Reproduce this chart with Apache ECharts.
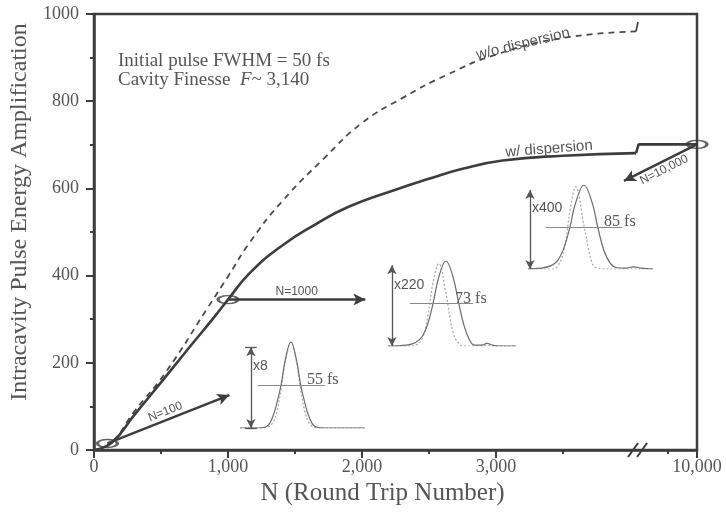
<!DOCTYPE html>
<html><head><meta charset="utf-8">
<script src="https://cdn.jsdelivr.net/npm/echarts@6/dist/echarts.min.js"></script>
<style>html,body{margin:0;padding:0;background:#fff}#c{width:726px;height:513px}</style>
</head><body><div id="c"></div>
<script>
// ---------- data ----------
// w/ dispersion (solid)
const solidN = [0, 130, 300, 500, 700, 900, 1000, 1160, 1400, 1650, 1900, 2250, 2500, 2750, 3050, 3500, 4045];
const solidY = [0, 16, 80, 155, 231, 306, 345, 405, 468, 517, 558, 597, 622, 645, 664, 675, 681];
const solidTailN = [4045, 9010, 10000];
const solidTailY = [681, 701, 701];
// w/o dispersion (dashed)
const dashedN = [0, 130, 300, 530, 850, 1000, 1160, 1400, 1730, 2000, 2300, 2630, 3000, 3500, 4045];
const dashedY = [0, 17, 88, 176, 327, 398, 475, 569, 673, 750, 807, 860, 907, 945, 960];
const dashedTailN = [4045, 9000];
const dashedTailY = [960, 982];
// marked round trips and arrows to the insets
const markerN = [100, 1000, 10000];
const markerY = [15, 345, 701];
const markerLabels = ['N=100', 'N=1000', 'N=10,000'];
const arrowEndN = [1010, 2025, 3955];
const arrowEndY = [126, 345, 617];
// axis ticks
const xTickN = [0, 1000, 2000, 3000, 10000];
const xTickLabels = ['0', '1,000', '2,000', '3,000', '10,000'];
const xMinorN = [500, 1500, 2500, 3500, 9500];
const yMin = 0, yMax = 1000, yStep = 200;
// axis break: N up to BREAK_AT drawn linearly, then RESUME_AT..10000 compressed
const BREAK_AT = 4060, RESUME_AT = 9000, RIGHT_SCALE = 0.44;

// inset pulses (time in fs, normalised intensity)
const p1T   = [-140, -90, -66, -50, -38, -27, -15, 0, 15, 27, 38, 50, 66, 90, 204];
const p1Out = [0, 0, 0.02, 0.13, 0.3, 0.5, 0.8, 1, 0.8, 0.5, 0.3, 0.13, 0.02, 0, 0];
const p1In  = [0, 0, 0.01, 0.06, 0.2, 0.45, 0.78, 1, 0.78, 0.45, 0.2, 0.06, 0.01, 0, 0];
const p2T   = [-162, -110, -85, -65, -50, -36, -20, 0, 20, 36, 50, 65, 80, 100, 115, 130, 150, 196];
const p2Out = [0, 0.01, 0.04, 0.12, 0.27, 0.5, 0.81, 1, 0.81, 0.5, 0.25, 0.08, 0.01, 0.01, 0.03, 0.01, 0, 0];
const p2In  = [0, 0, 0.01, 0.1, 0.37, 0.75, 0.97, 0.62, 0.16, 0.03, 0, 0, 0, 0, 0.01, 0, 0, 0];
const p3T   = [-170, -130, -100, -80, -60, -42, -25, 0, 25, 42, 60, 80, 100, 125, 152, 175, 210];
const p3Out = [0, 0.01, 0.04, 0.1, 0.26, 0.51, 0.79, 1, 0.79, 0.5, 0.23, 0.07, 0.015, 0.01, 0.025, 0.01, 0];
const p3In  = [0, 0, 0, 0.03, 0.24, 0.7, 0.98, 0.52, 0.07, 0.01, 0, 0, 0, 0, 0, 0, 0];
const insetGain = ['x8', 'x220', 'x400'];
const insetFwhm = ['55 fs', '73 fs', '85 fs'];

// ---------- helpers ----------
function toAxis(n) {
  const v = n <= BREAK_AT ? n : BREAK_AT + (n - RESUME_AT) * RIGHT_SCALE;
  return Math.round(v * 1000) / 1000;
}
const XMAX = toAxis(10000);
const xTickPos = xTickN.map(toAxis);
const xMinorPos = xMinorN.map(toAxis);
const pairs = (xs, ys, f) => xs.map((x, i) => [f ? f(x) : x, ys[i]]);

const AX = '#3d3d3d', TXT = '#555';
const SERIF = 'Liberation Serif', SANS = 'Liberation Sans';

const insets = [
  {grid: {left: 240, top: 342, width: 125, height: 86}, tMin: -140, tMax: 204, T: p1T, out: p1Out, inp: p1In, arrowT: -110, top: 0.94, fw: [-91, 94], cap: 16},
  {grid: {left: 388, top: 261, width: 128, height: 85}, tMin: -162, tMax: 196, T: p2T, out: p2Out, inp: p2In, arrowT: -151, top: 0.95, fw: [-101, 76], cap: 17},
  {grid: {left: 528, top: 185, width: 125, height: 84}, tMin: -170, tMax: 210, T: p3T, out: p3Out, inp: p3In, arrowT: -164, top: 0.94, fw: [-116, 116], cap: 18}
];

const grids = [{left: 94, right: 29, top: 14, bottom: 63, show: true, borderColor: AX, borderWidth: 2.5}];
const xAxes = [
  {gridIndex: 0, type: 'value', min: 0, max: XMAX, position: 'bottom',
   axisLine: {show: true, onZero: false, lineStyle: {color: AX, width: 2.5}},
   axisTick: {show: true, inside: false, length: 8, customValues: xTickPos, lineStyle: {color: AX, width: 2}},
   axisLabel: {show: true, customValues: xTickPos, margin: 8, color: TXT, fontFamily: SERIF, fontSize: 18,
     formatter: v => { const i = xTickPos.findIndex(p => Math.abs(p - v) < 1e-6); return i >= 0 ? xTickLabels[i] : ''; }},
   splitLine: {show: false},
   name: 'N (Round Trip Number)', nameLocation: 'middle', nameGap: 27,
   nameTextStyle: {fontFamily: SERIF, fontSize: 25, color: TXT, padding: [0, 26, 0, 0]}},
  {gridIndex: 0, type: 'value', min: 0, max: XMAX, position: 'bottom',
   axisLine: {show: false}, axisLabel: {show: false}, splitLine: {show: false},
   axisTick: {show: true, inside: false, length: 4, customValues: xMinorPos, lineStyle: {color: AX, width: 2}}}
];
const yAxes = [
  {gridIndex: 0, type: 'value', min: yMin, max: yMax, interval: yStep,
   axisLine: {show: true, onZero: false, lineStyle: {color: AX, width: 2.5}},
   axisTick: {show: true, inside: false, length: 8, lineStyle: {color: AX, width: 2}},
   minorTick: {show: true, splitNumber: 2, length: 4, lineStyle: {color: AX, width: 2}},
   axisLabel: {margin: 15, color: TXT, fontFamily: SERIF, fontSize: 18, formatter: v => String(v)},
   splitLine: {show: false},
   name: 'Intracavity Pulse Energy Amplification', nameLocation: 'middle', nameGap: 60,
   nameTextStyle: {fontFamily: SERIF, fontSize: 24, color: TXT, padding: [0, 0, 0, 40]}}
];

const series = [
  {name: 'w/o dispersion', type: 'line', xAxisIndex: 0, yAxisIndex: 0, data: pairs(dashedN, dashedY, toAxis),
   showSymbol: false, smooth: 0.5, lineStyle: {color: '#4a4a4a', width: 1.8, type: [6, 5]}, z: 3},
  {name: 'w/o dispersion tail', type: 'line', xAxisIndex: 0, yAxisIndex: 0, data: pairs(dashedTailN, dashedTailY, toAxis),
   showSymbol: false, lineStyle: {color: '#4a4a4a', width: 1.8}, z: 3},
  {name: 'w/ dispersion', type: 'line', xAxisIndex: 0, yAxisIndex: 0, data: pairs(solidN, solidY, toAxis),
   showSymbol: false, smooth: 0.5, lineStyle: {color: AX, width: 2.6}, z: 4},
  {name: 'w/ dispersion tail', type: 'line', xAxisIndex: 0, yAxisIndex: 0, data: pairs(solidTailN, solidTailY, toAxis),
   showSymbol: false, lineStyle: {color: AX, width: 2.6}, z: 4},
  {name: 'markers', type: 'scatter', xAxisIndex: 0, yAxisIndex: 0, clip: false,
   data: pairs(markerN, markerY, toAxis), symbol: 'circle', symbolSize: [20, 8],
   itemStyle: {color: 'rgba(0,0,0,0)', borderColor: AX, borderWidth: 2.2}, z: 5,
   markLine: {silent: true, symbol: ['none', 'arrow'], symbolSize: [9, 12], animation: false,
     lineStyle: {type: 'solid', color: AX, width: 2.5},
     data: markerN.map((n, i) => [
       {coord: [toAxis(n), markerY[i]],
        label: {show: true, formatter: markerLabels[i], position: i === 2 ? 'insideMiddleBottom' : 'insideMiddleTop',
                distance: 2, color: TXT, fontFamily: SANS, fontSize: 12}},
       {coord: [toAxis(arrowEndN[i]), arrowEndY[i]]}
     ])}}
];

insets.forEach((ins, k) => {
  grids.push(Object.assign({show: false}, ins.grid));
  xAxes.push({gridIndex: k + 1, type: 'value', min: ins.tMin, max: ins.tMax, show: false});
  yAxes.push({gridIndex: k + 1, type: 'value', min: 0, max: 1, show: false});
  const xi = k + 2, yi = k + 1;
  series.push({type: 'line', xAxisIndex: xi, yAxisIndex: yi, data: pairs(ins.T, ins.inp), showSymbol: false, smooth: 0.4,
    lineStyle: {color: '#a6a6a6', width: 1.2, type: [2, 2]}, z: 2});
  series.push({type: 'line', xAxisIndex: xi, yAxisIndex: yi, data: pairs(ins.T, ins.out), showSymbol: false, smooth: 0.4,
    lineStyle: {color: '#6c6c6c', width: 1.2}, z: 3,
    markLine: {silent: true, animation: false, label: {show: false},
      data: [
        [{coord: [ins.fw[0], 0.5], symbol: 'none', lineStyle: {type: 'solid', color: '#8a8a8a', width: 1}},
         {coord: [ins.fw[1], 0.5], symbol: 'none'}],
        [{coord: [ins.arrowT, 0], symbol: 'arrow', symbolSize: [7, 9], lineStyle: {type: 'solid', color: '#555', width: 1.3}},
         {coord: [ins.arrowT, ins.top], symbol: 'arrow', symbolSize: [7, 9]}],
        [{coord: [ins.arrowT - ins.cap, 0], symbol: 'none', lineStyle: {type: 'solid', color: '#555', width: 1.3}},
         {coord: [ins.arrowT + ins.cap, 0], symbol: 'none'}],
        [{coord: [ins.arrowT - ins.cap, ins.top], symbol: 'none', lineStyle: {type: 'solid', color: '#555', width: 1.3}},
         {coord: [ins.arrowT + ins.cap, ins.top], symbol: 'none'}]
      ]}});
});

const chart = echarts.init(document.getElementById('c'), null, {renderer: 'canvas'});
chart.setOption({
  animation: false,
  backgroundColor: '#fff',
  grid: grids, xAxis: xAxes, yAxis: yAxes, series: series
});

// ---------- annotations ----------
const P = (n, y) => chart.convertToPixel({gridIndex: 0}, [toAxis(n), y]);
const I = (k, t, y) => chart.convertToPixel({gridIndex: k + 1}, [t, y]);
const g = [];
const txt = (x, y, text, o) => g.push({type: 'text', x, y, rotation: o.rot || 0, z: 50,
  style: Object.assign({text, fill: TXT, font: o.font, align: o.align || 'left', verticalAlign: o.va || 'middle'}, o.extra || {})});

txt(118, 61, 'Initial pulse FWHM = 50 fs', {font: '19px "Liberation Serif"'});
g.push({type: 'text', x: 118, y: 80, z: 50, style: {
  text: '{a|Cavity Finesse  }{i|F}{a|~ 3,140}', verticalAlign: 'middle',
  rich: {a: {font: '19px "Liberation Serif"', fill: TXT}, i: {font: 'italic 19px "Liberation Serif"', fill: TXT}}}});
txt(523, 44, 'w/o dispersion', {font: '15px "Liberation Sans"', align: 'center', rot: 0.24});
txt(549, 149, 'w/ dispersion', {font: '15px "Liberation Sans"', align: 'center', rot: 0.08});

insets.forEach((ins, k) => {
  const a = I(k, ins.arrowT, 0.72);
  txt(a[0] + 2, a[1], insetGain[k], {font: '14px "Liberation Sans"'});
  const f = I(k, ins.fw[1], 0.5);
  txt(f[0] - 18, f[1] + 3, insetFwhm[k], {font: '16px "Liberation Serif"', va: 'bottom'});
});

// axis break mark
const b = P(BREAK_AT, 0);
[-5, 4].forEach(d => g.push({type: 'line', z: 50,
  shape: {x1: b[0] + d - 5, y1: b[1] + 7, x2: b[0] + d + 5, y2: b[1] - 7},
  style: {stroke: AX, lineWidth: 2}}));

chart.setOption({graphic: g});
</script>
</body></html>
